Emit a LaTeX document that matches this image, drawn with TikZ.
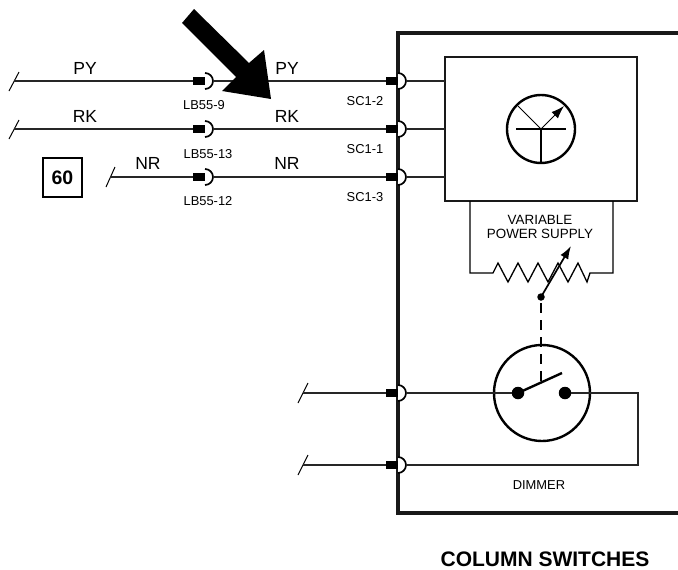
\documentclass[tikz,border=0pt]{standalone}
\usepackage{fontspec}
\setmainfont{Liberation Sans}
\usetikzlibrary{arrows.meta}
\tikzset{
  x=1pt,y=-1pt,
  wire/.style={line width=1.1pt,draw=black!85},
  slash/.style={line width=1pt},
  frame/.style={line width=4pt,draw=black!90},
  inner frame/.style={line width=2.6pt,draw=black!90},
  dial/.style={circle,draw=black,line width=2.4pt,inner sep=0pt,minimum size=#1},
  plug/.style={fill=black,inner sep=0pt,minimum width=12pt,minimum height=8.5pt},
  wirelabel/.style={font=\fontsize{17.5}{18}\selectfont,inner sep=0pt},
  pinlabel/.style={font=\fontsize{12.9}{14}\selectfont,inner sep=0pt,align=center},
  contact/.style={circle,fill=black,inner sep=0pt,minimum size=#1},
}
% plug at (#2,#3) named #1: black block with a half-round socket on its right
\newcommand{\plugat}[3]{%
  \fill[white] (#2+6,#3+8) arc[start angle=90,end angle=-90,radius=8] -- cycle;
  \draw[line width=1.7pt] (#2+6,#3+8) arc[start angle=90,end angle=-90,radius=8];
  \node[plug] (#1) at (#2,#3) {};
  \coordinate (#1in) at (#2-6,#3);
  \coordinate (#1out) at (#2+14,#3);
}
\begin{document}
\begin{tikzpicture}
\useasboundingbox (0,0) rectangle (678,570);
% outer column-switch frame
\draw[frame] (678,33) -- (398,33) -- (398,513) -- (678,513);
% free wire ends
\coordinate (a1) at (14,81);
\coordinate (a2) at (14,129);
\coordinate (a3) at (110,177);
\coordinate (a4) at (303,393);
\coordinate (a5) at (303,465);
\draw[slash] (9,91) -- (19,72);
\draw[slash] (9,139) -- (19,120);
\draw[slash] (106,187) -- (115,167);
\draw[slash] (298,403) -- (308,383);
\draw[slash] (298,475) -- (308,455);
% module
\node[draw,inner frame,minimum width=192pt,minimum height=144pt,inner sep=0pt] (module) at (541,129) {};
\coordinate (ma) at (445,81);
\coordinate (mb) at (445,129);
\coordinate (mc) at (445,177);
% connectors
\plugat{lba}{199}{81}
\plugat{lbb}{199}{129}
\plugat{lbc}{199}{177}
\plugat{sca}{392}{81}
\plugat{scb}{392}{129}
\plugat{scc}{392}{177}
\plugat{scd}{392}{393}
\plugat{sce}{392}{465}
% wires
\draw[wire] (a1) -- (lbain);
\draw[wire] (a2) -- (lbbin);
\draw[wire] (a3) -- (lbcin);
\draw[wire] (a4) -- (scdin);
\draw[wire] (a5) -- (scein);
\draw[wire] (lbaout) -- (scain);
\draw[wire] (lbbout) -- (scbin);
\draw[wire] (lbcout) -- (sccin);
\draw[wire] (scaout) -- (ma);
\draw[wire] (scbout) -- (mb);
\draw[wire] (sccout) -- (mc);
% gauge
\node[dial=68pt] (gauge) at (541,129) {};
\draw[line width=2.4pt] (516,129) -- (566,129);
\draw[line width=1.2pt] (gauge.center) -- (gauge.south);
\draw[line width=1pt] (518,106) -- (gauge.center);
\draw[line width=1pt,-{Latex[length=13pt,width=9pt]}] (gauge.center) -- (564,106);
% variable power supply
\coordinate (rl) at (470,201);
\coordinate (rr) at (613,201);
\draw[line width=1.3pt] (rl) -- (470,273) -- (493,273) -- (498,263) -- (508,282) -- (518,263) -- (528,282) -- (538,263) -- (548,282) -- (558,263) -- (568,282) -- (578,263) -- (587,282) -- (590,273) -- (613,273) -- (rr);
\node[contact=7.5pt] (wiper) at (541,297) {};
\coordinate (wipertip) at (571,246);
\draw[line width=1.7pt,-{Latex[length=13pt,width=9pt]}] (wiper.center) -- (wipertip);
% dimmer switch
\node[dial=96pt] (sw) at (542,393) {};
\node[contact=12.5pt] (c1) at (518,393) {};
\node[contact=12.5pt] (c2) at (565,393) {};
\draw[wire] (scdout) -- (c1);
\draw[wire] (c2) -- (638,393) -- (638,465) -- (sceout);
\draw[line width=2.4pt] (c1.center) -- (562,373);
\coordinate (dashstart) at (541,303);
\coordinate (dashend) at (541,381);
\draw[line width=1.1pt,dash pattern=on 10pt off 7pt] (dashstart) -- (dashend);
% big pointer
\fill[black] (182,23) -- (194,9) -- (249,63) -- (264,50) -- (271,99) -- (222,91) -- (236,77) -- cycle;
% box 60
\node[draw,line width=1.4pt,minimum width=39pt,minimum height=39pt,inner sep=0pt,font=\fontsize{19.5}{20}\bfseries\selectfont] (tag) at (62.5,177.5) {60};
% labels
\node[wirelabel] (t1) at (85,68) {PY};
\node[wirelabel] (t2) at (287,68) {PY};
\node[wirelabel] (t3) at (85,116) {RK};
\node[wirelabel] (t4) at (287,116) {RK};
\node[wirelabel] (t5) at (148,163) {NR};
\node[wirelabel] (t6) at (287,163) {NR};
\node[pinlabel] (p1) at (204,105) {LB55-9};
\node[pinlabel] (p2) at (208,154) {LB55-13};
\node[pinlabel] (p3) at (208,201) {LB55-12};
\node[pinlabel] (p4) at (365,101) {SC1-2};
\node[pinlabel] (p5) at (365,149) {SC1-1};
\node[pinlabel] (p6) at (365,197) {SC1-3};
\node[font=\fontsize{13.4}{14}\selectfont,align=center,inner sep=0pt] (vps) at (540,227) {VARIABLE\\POWER SUPPLY};
\node[pinlabel] (dim) at (539,485) {DIMMER};
\node[font=\fontsize{21}{22}\bfseries\selectfont,inner sep=0pt] (title) at (545,559) {COLUMN SWITCHES};
\end{tikzpicture}
\end{document}
